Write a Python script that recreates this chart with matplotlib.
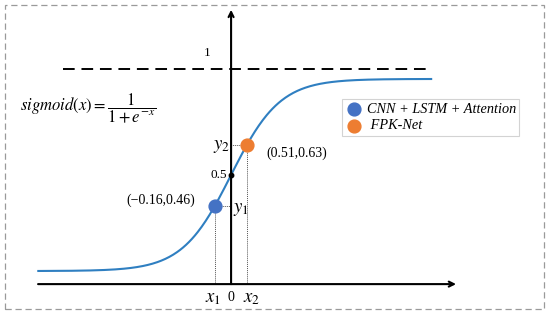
import numpy as np
import matplotlib.pyplot as plt
from matplotlib.patches import Rectangle

plt.rcParams['font.family'] = ['Liberation Serif', 'DejaVu Serif']
plt.rcParams['mathtext.fontset'] = 'stix'

# sigmoid curve domain (schematic units)
x_min, x_max = -7.9, 8.2
# marker positions on the curve as drawn, and the values written next to them
model_names = ['CNN + LSTM + Attention', ' FPK-Net']
marker_x = [-0.67, 0.65]
point_labels = ['(\u22120.16,0.46)', '(0.51,0.63)']
model_colors = ['#4472C4', '#ED7D31']


def sigmoid(x):
    return 1.0 / (1.0 + np.exp(-x))


fig = plt.figure(figsize=(5.5, 3.16), dpi=100)
ax = fig.add_axes([0, 0, 1, 1])
ax.set_xlim(-9.47, 13.07)
ax.set_ylim(-0.234, 1.411)
ax.axis('off')

# dashed outer frame
fig.patches.append(Rectangle((5 / 550, 1 - 309 / 316), 539 / 550, 304 / 316,
                             transform=fig.transFigure, fill=False,
                             edgecolor='#9a9a9a', lw=0.9, ls=(0, (5, 3))))

# axes with arrows
y_axis0 = -0.068
ax.annotate('', xy=(9.22, y_axis0), xytext=(-7.91, y_axis0),
            arrowprops=dict(arrowstyle='->', lw=1.5, color='black',
                            shrinkA=0, shrinkB=0, mutation_scale=9))
ax.annotate('', xy=(0, 1.36), xytext=(0, y_axis0),
            arrowprops=dict(arrowstyle='->', lw=1.5, color='black',
                            shrinkA=0, shrinkB=0, mutation_scale=9))

# asymptote
ax.plot([-6.89, 8.07], [1.052, 1.052], color='black', lw=1.4, ls=(0, (6, 3.5)))
ax.text(-0.99, 1.135, '1', fontsize=9.5, ha='center', va='center')

# curve
xs = np.linspace(x_min, x_max, 400)
ax.plot(xs, sigmoid(xs), color='#2F7FC1', lw=1.5, zorder=2)

# 0.5 mark
ax.plot([0], [0.5], 'o', color='black', ms=3.2, zorder=4)
ax.text(-0.15, 0.5, '0.5', fontsize=9.5, ha='right', va='center')

# highlighted points with guide lines
handles = []
for mx, name, col in zip(marker_x, model_names, model_colors):
    my = sigmoid(mx)
    ax.plot([mx, mx], [y_axis0, my], color='#555555', lw=0.7, ls=(0, (1, 1)), zorder=1)
    ax.plot([mx, 0], [my, my], color='#555555', lw=0.7, ls=(0, (1, 1)), zorder=1)
    h = ax.scatter([mx], [my], s=85, color=col, zorder=5, label=name)
    handles.append(h)

ax.text(marker_x[0] - 2.2, sigmoid(marker_x[0]) + 0.03, point_labels[0],
        fontsize=10, ha='center', va='center')
ax.text(marker_x[1] + 2.05, sigmoid(marker_x[1]) - 0.045, point_labels[1],
        fontsize=10, ha='center', va='center')

# axis annotations
ax.text(-0.4, sigmoid(marker_x[1]) - 0.01, '$y_2$', fontsize=13.5, ha='center', va='center')
ax.text(0.42, sigmoid(marker_x[0]) - 0.02, '$y_1$', fontsize=13.5, ha='center', va='center')
ax.text(marker_x[0] - 0.07, -0.143, '$x_1$', fontsize=13.5, ha='center', va='center')
ax.text(0.01, -0.136, '0', fontsize=10, ha='center', va='center')
ax.text(marker_x[1] + 0.17, -0.141, '$x_2$', fontsize=13.5, ha='center', va='center')

# formula
ax.text(-8.65, 0.85, r'$sigmoid(x)=\dfrac{1}{1+e^{-x}}$', fontsize=12,
        ha='left', va='center')

leg = ax.legend(handles=handles, loc='upper left', bbox_to_anchor=(0.621, 0.686),
                bbox_transform=fig.transFigure, borderaxespad=0, frameon=True,
                fancybox=False, edgecolor='#c8c8c8', handletextpad=0.3,
                borderpad=0.25, labelspacing=0.25, handlelength=1.2,
                markerscale=1.0,
                prop={'family': 'Liberation Serif', 'style': 'italic', 'size': 10.3})
leg.get_frame().set_linewidth(0.8)

fig.savefig('out.png', dpi=100)
